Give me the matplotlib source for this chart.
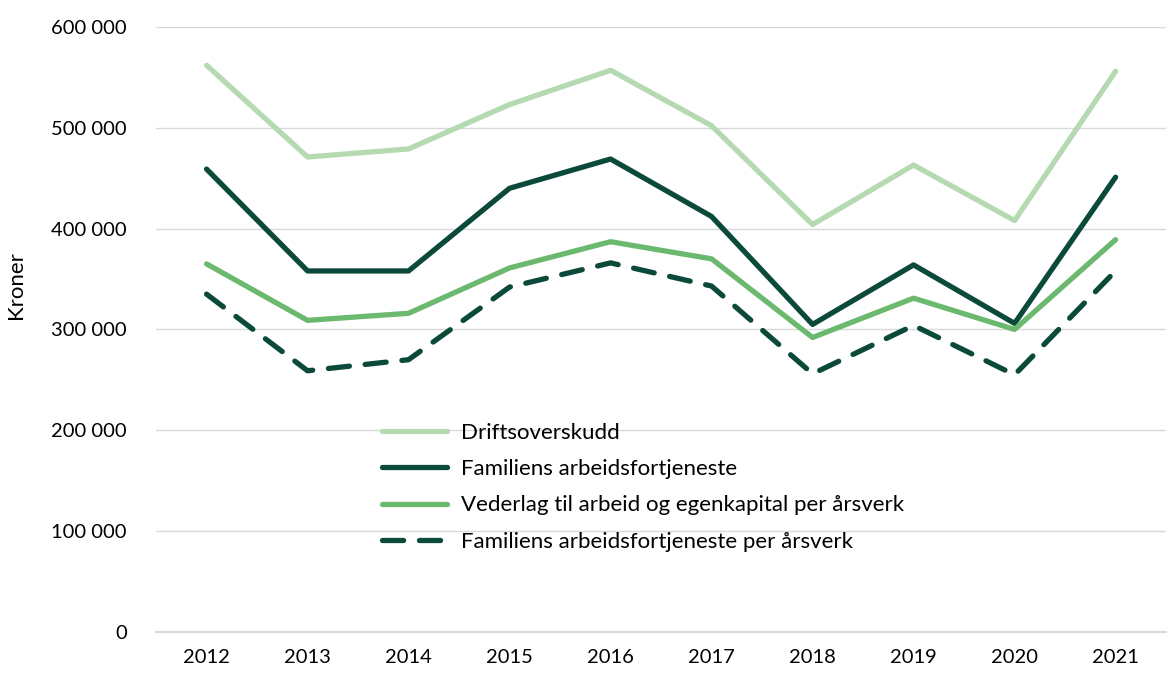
import matplotlib
matplotlib.use("Agg")
import matplotlib.pyplot as plt
from matplotlib.ticker import FuncFormatter

plt.rcParams['font.family'] = ['Lato', 'DejaVu Sans']

years = ["2012", "2013", "2014", "2015", "2016", "2017", "2018", "2019", "2020", "2021"]

driftsoverskudd = [562000, 471000, 479000, 523000, 557000, 502000, 404000, 463000, 408000, 556000]
familiens = [459000, 358000, 358000, 440000, 469000, 412000, 305000, 364000, 306000, 451000]
vederlag = [365000, 309000, 316000, 361000, 387000, 370000, 292000, 331000, 300000, 389000]
familiens_aarsverk = [335000, 259000, 270000, 342000, 366000, 343000, 256000, 304000, 255000, 358000]

labels = ["Driftsoverskudd",
          "Familiens arbeidsfortjeneste",
          "Vederlag til arbeid og egenkapital per årsverk",
          "Familiens arbeidsfortjeneste per årsverk"]

fig = plt.figure(figsize=(11.69, 6.73), dpi=100)
ax = fig.add_axes([0.1335, 0.061, 0.864, 0.899])

x = range(len(years))
ax.plot(x, driftsoverskudd, color="#b5dab2", lw=3.8, label=labels[0], solid_capstyle="round")
ax.plot(x, familiens, color="#0b4a3a", lw=3.8, label=labels[1], solid_capstyle="round")
ax.plot(x, vederlag, color="#6bb86f", lw=3.8, label=labels[2], solid_capstyle="round")
ax.plot(x, familiens_aarsverk, color="#0b4a3a", lw=3.8, label=labels[3],
        dashes=(4, 3), dash_capstyle="round")

ax.set_xlim(-0.5, len(years) - 0.5)
ax.set_ylim(0, 600000)
ax.set_yticks(range(0, 600001, 100000))
ax.yaxis.set_major_formatter(FuncFormatter(lambda v, p: f"{int(v):,}".replace(",", " ")))
ax.set_xticks(list(x))
ax.set_xticklabels(years)
ax.grid(axis="y", color="#d9d9d9", lw=1)
ax.set_axisbelow(True)
for s in ["top", "right", "left"]:
    ax.spines[s].set_visible(False)
ax.spines["bottom"].set_color("#d9d9d9")
ax.spines["bottom"].set_linewidth(1.5)
ax.tick_params(length=0, labelsize=14.5, colors="#000000", pad=12)
ax.tick_params(axis="y", pad=21)
ax.set_ylabel("Kroner", fontsize=16)
ax.yaxis.set_label_coords(-0.129, 0.574)

ax.legend(loc="upper left", bbox_to_anchor=(0.215, 0.36), frameon=False,
          fontsize=16, handlelength=2.9, handletextpad=0.65, labelspacing=0.73,
          borderaxespad=0)

fig.savefig("out.png", dpi=100)
